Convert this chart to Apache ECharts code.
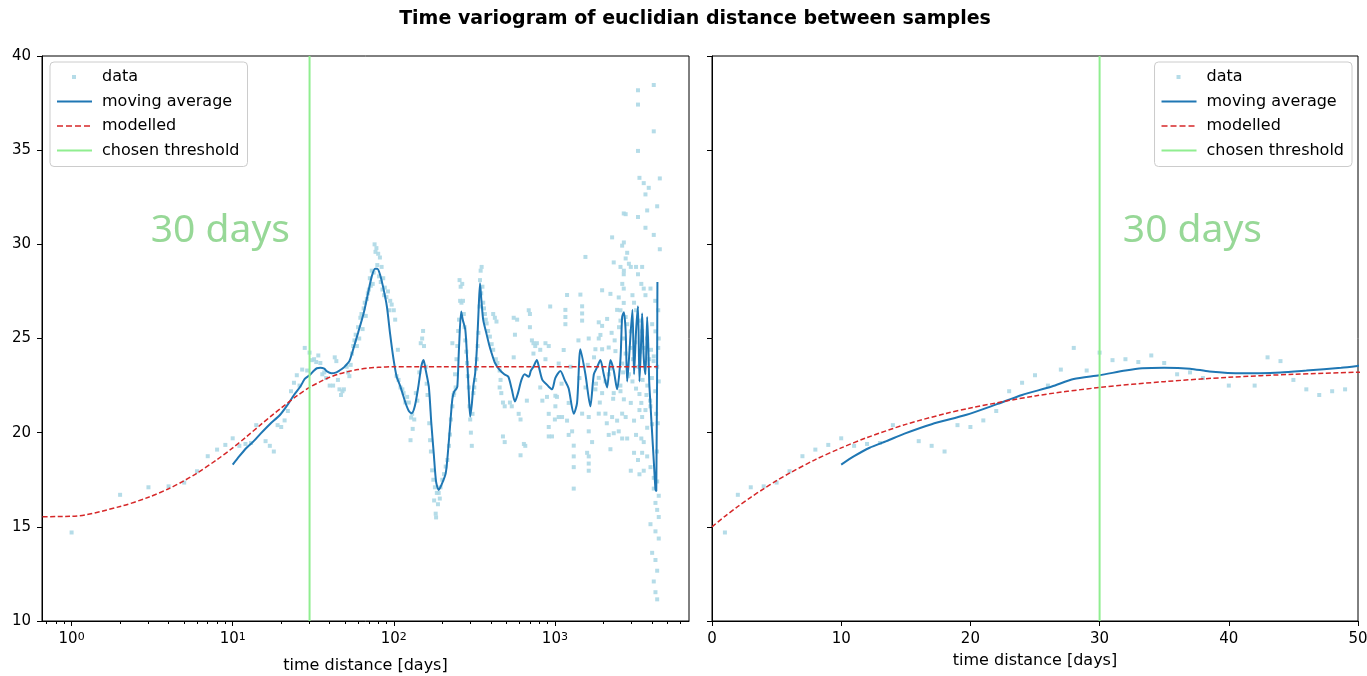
<!DOCTYPE html>
<html><head><meta charset="utf-8">
<script src="https://cdn.jsdelivr.net/npm/echarts@6/dist/echarts.min.js"></script>
<style>html,body{margin:0;padding:0;background:#fff}#c{width:1367px;height:676px}</style>
</head><body><div id="c"></div>
<script>
const titleText = 'Time variogram of euclidian distance between samples';
const xAxisName = 'time distance [days]';
const seriesNames = ['data', 'moving average', 'modelled', 'chosen threshold'];
const thresholdDays = 30;
const thresholdLabel = '30 days';
const yRange = [10, 40];
const logRange = [0.655, 6800];
const linRange = [0, 50];
const logMajorTicks = [1, 10, 100, 1000];

// [time distance (days), euclidian distance]
const samples = [
[1,14.7],[2,16.7],[3,17.1],[4,17.15],[5,17.35],[6,17.95],[7,18.75],[8,19.1],[9,19.35],[10,19.7],
[11,19.3],[12,19.4],[13,19.45],[14,20.4],[16,19.55],[17,19.3],[18,19.0],[19,20.4],[20,20.3],[21,20.65],
[22,21.15],[23,22.2],[24,22.65],[25,23.05],[26,22.5],[27,23.35],[28,24.5],[29,23.3],[30,24.25],[31,23.85],
[32,23.9],[33,23.75],[34,24.1],[35,23.7],[36,23.1],[37,23.2],[38,22.9],[40,22.5],[42,22.5],[43,24.0],
[44,23.8],[45,22.8],[46,22.3],[47,22.0],[48,22.2],[49,22.3],
[51,23.5],[52,23.2],[53,23.0],[54,23.6],[55,24.2],[56,24.6],[57,24.9],[58,25.2],[59,24.6],[60,25.6],
[61,25.0],[62,26.1],[63,26.3],[64,25.5],[65,26.6],[66,26.9],[67,26.2],[68,27.1],[69,27.4],[70,27.6],
[71,28.2],[72,27.8],[73,28.6],[74,27.9],[75,28.5],[76,30.0],[77,29.6],[78,29.8],[79,28.9],[80,29.5],
[81,28.3],[82,29.3],[83,28.0],[84,28.8],[85,27.6],[86,28.2],[87,27.3],[88,27.7],[90,27.2],[92,27.5],
[94,26.5],[95,27.0],[97,26.8],[100,26.5],[102,26.0],[104,23.0],[106,24.4],[107,22.8],[110,22.4],[113,22.3],
[115,22.1],[118,21.6],[121,21.9],[124,21.6],[127,19.6],[128,20.8],[130,21.0],[131,20.2],[134,20.7],[137,22.1],
[140,21.7],[144,23.2],[147,24.75],[150,25.0],[152,25.4],[154,24.6],[158,23.5],[160,22.6],[162,22.0],[166,20.5],
[168,19.6],[170,19.0],[173,18.0],[176,17.5],[178,16.4],[180,17.1],[182,15.7],[183,15.5],[185,16.8],[188,16.2],
[190,16.8],[193,16.5],[195,17.1],[200,17.5],[205,17.8],[210,18.2],[215,18.55],[220,19.3],[223,19.9],[226,20.7],
[231,21.4],[231,24.75],[235,22.0],[237,22.1],[240,23.1],[242,22.4],[245,23.9],[248,24.6],[251,25.4],[254,26.0],
[256,28.1],[258,27.0],[260,27.75],[263,26.9],[266,27.9],[269,27.0],[272,26.3],[275,25.6],[278,24.9],[282,24.3],
[285,23.7],[288,23.0],[292,22.4],[295,21.4],[298,20.7],[301,20.0],[305,19.3],[308,21.0],[312,22.1],[316,22.4],
[320,22.8],[324,23.4],[327,23.9],[331,24.6],[335,25.3],[340,26.7],[343,28.1],[346,28.6],[349,27.4],[351,28.8],
[355,27.75],[359,26.9],[363,26.6],[368,26.3],[372,26.0],[377,25.8],[385,25.4],[395,25.1],[405,24.7],[414,24.4],
[414,26.3],[424,26.1],[430,23.9],[434,25.9],[440,23.7],[454,23.3],[454,22.4],[460,22.8],[465,22.1],[476,21.6],
[476,19.8],[488,21.4],[488,19.5],[526,21.6],[540,21.4],[555,26.1],[555,24.0],[565,25.2],[583,26.0],[596,21.0],
[612,20.7],[612,18.8],[642,19.4],[655,19.3],[670,21.7],[688,26.5],[700,25.6],[700,26.3],[720,24.9],[736,24.75],
[736,24.2],[755,24.6],[773,24.75],[811,24.4],[811,22.4],[836,21.7],[874,24.75],[874,23.9],[893,21.9],[916,24.6],
[916,21.0],[916,20.3],[916,19.8],[935,26.7],[960,19.8],[1000,20.7],[1007,21.96],[1007,21.4],[1030,21.9],[1056,23.67],
[1056,20.83],[1108,20.83],[1134,24.39],[1162,26.52],[1162,26.14],[1162,25.76],[1190,27.31],[1190,20.64],[1218,21.58],[1218,19.88],
[1279,20.07],[1309,19.31],[1309,18.74],[1309,18.17],[1309,17.03],[1440,27.33],[1476,26.71],[1476,26.33],[1476,25.95],[1476,21.01],
[1547,29.33],[1585,18.93],[1622,25.0],[1622,20.83],[1622,20.07],[1622,18.74],[1622,18.36],[1622,17.98],[1702,19.5],[1785,24.43],
[1785,22.3],[1872,25.86],[1872,25.0],[1872,22.91],[1872,21.01],[1917,25.19],[1964,27.56],[1964,25.67],[1964,24.43],[1964,22.1],
[2059,22.72],[2059,21.01],[2110,26.04],[2159,24.52],[2159,23.1],[2159,19.88],[2212,27.37],[2212,19.12],[2266,30.37],[2266,20.83],
[2319,29.04],[2319,22.1],[2319,19.97],[2376,24.33],[2434,26.52],[2434,20.64],[2491,27.18],[2491,20.07],[2553,25.95],[2553,22.2],
[2615,29.93],[2615,21.01],[2615,19.69],[2676,31.64],[2676,28.41],[2676,27.65],[2676,26.89],
[1100,22.6],[1250,23.5],[1400,24.9],[1420,22.9],[1550,22.4],[1600,23.6],[1750,24.0],[1800,22.6],[1900,21.6],[2100,20.5],
[2200,23.4],[2250,25.3],[2300,21.8],[2350,24.9],[2500,25.6],[2550,22.5],[2650,23.2],[2750,24.2],[2850,23.0],[2950,24.5],
[3050,23.9],[3150,24.8],[3300,23.5],[3380,24.3],[3500,22.8],[3550,24.5],[3650,23.7],[3750,22.5],[3850,23.9],[3950,24.4],
[4000,22.9],[4100,23.8],[4200,22.2],[3350,21.2],[3700,22.0],[3900,21.7],[4250,21.0],[4300,19.0],[4350,20.5],[4380,24.5],
[4380,26.5],[4200,27.0],
[4110,38.46],[3280,38.18],[3280,37.42],[4110,36.0],[3280,34.96],[3350,33.53],[3560,33.25],[3825,33.0],[3650,32.65],[4480,33.5],
[4315,32.02],[2750,31.6],[3280,31.45],[3740,31.8],[3650,30.88],[4110,30.5],[4480,29.74],[2680,30.1],[2810,29.55],[2750,29.25],
[2880,28.97],[2553,28.8],[2680,28.6],[2960,28.8],[3190,28.8],[3280,28.41],[3480,28.8],[2620,27.9],[3030,27.3],[3100,26.9],
[3440,27.9],[3560,27.65],[3650,27.3],[3920,27.65],[2553,26.5],[2750,26.14],[2810,25.76],[2960,25.38],[2680,25.0],[3190,26.5],
[3350,25.95],[3480,25.38],[3740,25.0],[4015,25.76],[4210,25.38],[4413,25.0],[4110,24.05],[4315,23.5],[4413,22.72],[2620,23.67],
[2880,23.1],[3030,22.72],[3190,22.34],[3350,22.05],[2680,21.77],[2960,21.58],[3440,21.58],[3650,21.2],[3920,21.4],[2750,20.83],
[3100,20.64],[3480,20.83],[3740,20.26],[4015,20.45],[2810,19.69],[3190,19.88],[3440,19.69],[3560,19.5],[3100,18.93],[3280,18.55],
[3480,18.93],[3740,18.74],[2960,17.98],[3350,17.79],[3560,17.98],[3920,18.17],[4110,17.6],[4315,17.41],[4110,17.03],[4413,16.65],
[4210,16.27],[4315,15.9],[4413,15.52],[3920,15.14],[4210,14.76],[4413,14.38],[4015,13.62],[4210,13.24],[4315,12.67],[4110,12.1],
[4210,11.53],[4315,11.15]
];

const movingAverage = [
[10,18.3],[11,18.75],[12.2,19.2],[13.5,19.55],[14.9,19.95],[17,20.45],[19.7,20.95],[22,21.5],[24,22.0],[26.3,22.45],
[28,22.85],[30,23.05],[32,23.3],[33.3,23.42],[35,23.45],[37,23.4],[38.5,23.25],[41,23.15],[44,23.2],[46,23.3],
[48.7,23.45],[50,23.55],[53,23.8],[56.3,24.5],[60,25.3],[65,26.34],[70,27.6],[73,28.3],[76.5,28.7],[79,28.7],
[82.1,28.4],[86,27.7],[90.6,26.7],[95,25.2],[99.6,23.9],[104,23.0],[110,22.44],[118,21.6],[124,21.15],[129,21.03],
[135,21.4],[142,22.44],[148,23.5],[153,23.86],[158,23.3],[165,22.44],[171,20.5],[177,18.9],[183,17.4],[190,16.96],
[197,17.2],[210,17.84],[218,19.2],[225,20.67],[231,21.8],[237,22.18],[243,22.3],[248,22.44],[254,24.5],[262,26.43],
[268,26.0],[278,25.46],[285,24.0],[292,22.1],[298,20.85],[305,21.5],[312,22.5],[320,23.15],[328,24.5],[336,26.5],
[343,27.93],[350,27.0],[359,25.99],[375,25.3],[390,24.7],[405,24.22],[425,23.7],[454,23.33],[485,23.1],[514,22.97],
[540,22.3],[565,21.65],[590,22.1],[620,22.8],[650,23.1],[688,22.97],[710,23.3],[736,23.5],[773,23.86],[800,23.4],
[836,22.8],[880,22.6],[916,22.44],[960,22.3],[1007,22.91],[1082,23.28],[1150,22.8],[1218,22.34],[1309,21.0],[1373,21.58],
[1440,24.43],[1547,23.1],[1660,21.4],[1745,23.1],[1830,23.48],[1917,23.86],[2010,23.1],[2110,22.4],[2212,23.86],[2319,23.3],
[2434,22.3],[2553,23.9],[2615,26.14],[2680,26.4],[2750,25.38],[2810,22.72],[2880,23.86],[3030,26.52],[3100,23.1],[3190,25.38],
[3280,26.71],[3350,22.72],[3420,24.5],[3480,26.33],[3560,24.0],[3650,23.1],[3740,26.14],[3800,24.62],[3850,22.72],[3920,21.5],
[4000,20.2],[4110,18.5],[4210,17.0],[4260,16.9],[4330,28.0]
];

const modelledX = [0, 1, 2, 3, 4, 5, 6, 8, 10, 12, 15, 18, 20, 25, 30, 35, 40, 45, 50, 60, 70, 80, 100, 150, 200, 4330];
const modelledY = [15.0, 15.56, 16.08, 16.57, 17.02, 17.45, 17.85, 18.57, 19.19, 19.74, 20.44, 21.0, 21.31, 21.95, 22.4, 22.71, 22.94, 23.1, 23.21, 23.35, 23.43, 23.47, 23.5, 23.5, 23.5, 23.5];

const FONT = 'DejaVu Sans';
const modelledLinear = modelledX.map((x, i) => [x, modelledY[i]]);
// like matplotlib's log scale: non-positive x is clipped to a tiny positive value
const modelledLog = modelledX.map((x, i) => [x > 0 ? x : 1e-6, modelledY[i]]);
const thresholdLine = [[thresholdDays, yRange[0]], [thresholdDays, yRange[1]]];

const logMinorTicks = [];
for (let e = -1; e <= 3; e++) for (let m = 2; m <= 9; m++) {
  const v = m * Math.pow(10, e);
  if (v > logRange[0] && v < logRange[1]) logMinorTicks.push(v);
}

const chart = echarts.init(document.getElementById('c'), null, {renderer: 'canvas'});

const axisLineStyle = {show: true, lineStyle: {color: '#000', width: 1}};
const tickStyle = {show: true, inside: false, length: 5, lineStyle: {color: '#000', width: 1}};
const labelStyle = {color: '#000', fontSize: 15, fontFamily: FONT};
const nameStyle = {color: '#000', fontSize: 16, fontFamily: FONT};

function panelSeries(xi, modelData, labelX) {
  return [
    {name: seriesNames[0], type: 'scatter', xAxisIndex: xi, yAxisIndex: xi, data: samples,
     symbol: 'rect', symbolSize: 4, itemStyle: {color: '#add8e6', opacity: 0.9}, color: '#add8e6', z: 2, clip: true},
    {name: seriesNames[1], type: 'line', xAxisIndex: xi, yAxisIndex: xi, data: movingAverage,
     symbol: 'none', showSymbol: false, smooth: 0.25, clip: true, color: '#1f77b4',
     itemStyle: {color: '#1f77b4'}, lineStyle: {color: '#1f77b4', width: 2}, z: 3},
    {name: seriesNames[2], type: 'line', xAxisIndex: xi, yAxisIndex: xi, data: modelData,
     symbol: 'none', showSymbol: false, smooth: 0.3, clip: true, color: '#d62728',
     itemStyle: {color: '#d62728'}, lineStyle: {color: '#d62728', width: 1.5, type: [5, 2.5]}, z: 4},
    {name: seriesNames[3], type: 'line', xAxisIndex: xi, yAxisIndex: xi, data: thresholdLine,
     symbol: 'none', showSymbol: false, clip: true, color: '#90ee90',
     itemStyle: {color: '#90ee90'}, lineStyle: {color: '#90ee90', width: 2}, z: 5,
     markPoint: {silent: true, symbol: 'circle', symbolSize: 0,
       data: [{coord: [labelX, 30.7]}],
       label: {show: true, position: 'right', distance: 0, formatter: thresholdLabel,
         color: '#97d897', fontSize: 39, fontFamily: 'Noto Sans'}}}
  ];
}

const legendIcons = {
  'data': 'path://M0,0M40,14M15,5h4v4h-4z',
  'moving average': 'path://M0,0M40,14M0,6h35v2h-35z',
  'modelled': 'path://M0,0M40,14M0,6.25h6v1.5h-6zM9,6.25h6v1.5h-6zM18,6.25h6v1.5h-6zM27,6.25h6v1.5h-6z',
  'chosen threshold': 'path://M0,0M40,14M0,6h35v2h-35z'
};
function legendCfg(pos) {
  return Object.assign({
    orient: 'vertical', top: 62, itemWidth: 40, itemHeight: 14, itemGap: 8.5,
    padding: [7, 8, 8, 7], selectedMode: false,
    backgroundColor: 'rgba(255,255,255,0.8)', borderColor: '#cccccc', borderWidth: 1, borderRadius: 4,
    textStyle: {color: '#000', fontSize: 16, fontFamily: FONT},
    data: seriesNames.map(n => ({name: n, icon: legendIcons[n]}))
  }, pos);
}

chart.setOption({
  animation: false,
  backgroundColor: '#fff',
  title: {text: titleText, left: 690, top: 5, textAlign: 'center',
    textStyle: {fontSize: 19, fontWeight: 'bold', fontFamily: FONT, color: '#000'}},
  legend: [legendCfg({left: 50}), legendCfg({right: 15})],
  grid: [
    {left: 42, top: 56, width: 647, height: 565, show: true, borderColor: '#000', borderWidth: 1, backgroundColor: 'transparent', outerBoundsMode: 'none', containLabel: false},
    {left: 712, top: 56, width: 646, height: 565, show: true, borderColor: '#000', borderWidth: 1, backgroundColor: 'transparent', outerBoundsMode: 'none', containLabel: false}
  ],
  xAxis: [
    {type: 'log', gridIndex: 0, logBase: 10, min: logRange[0], max: logRange[1], position: 'bottom',
     axisLine: axisLineStyle, splitLine: {show: false},
     axisTick: Object.assign({}, tickStyle, {customValues: logMajorTicks}),
     axisLabel: {show: true, margin: 11, customValues: logMajorTicks,
       formatter: v => '{b|10}{s|' + Math.round(Math.log10(v)) + '}',
       rich: {b: {fontSize: 15, fontFamily: FONT, color: '#000'},
              s: {fontSize: 11, fontFamily: FONT, color: '#000', verticalAlign: 'top'}}},
     name: xAxisName, nameLocation: 'middle', nameGap: 37, nameTextStyle: nameStyle},
    {type: 'value', gridIndex: 1, min: linRange[0], max: linRange[1], interval: 10, position: 'bottom',
     axisLine: axisLineStyle, splitLine: {show: false}, axisTick: tickStyle,
     axisLabel: Object.assign({margin: 11, showMinLabel: true, showMaxLabel: true}, labelStyle),
     name: xAxisName, nameLocation: 'middle', nameGap: 32, nameTextStyle: nameStyle},
    {type: 'log', gridIndex: 0, logBase: 10, min: logRange[0], max: logRange[1], position: 'bottom',
     axisLine: {show: false}, splitLine: {show: false}, axisLabel: {show: false},
     axisTick: {show: true, length: 3, customValues: logMinorTicks, lineStyle: {color: '#000', width: 1}}}
  ],
  yAxis: [
    {type: 'value', gridIndex: 0, min: yRange[0], max: yRange[1], interval: 5,
     axisLine: axisLineStyle, splitLine: {show: false}, axisTick: tickStyle,
     axisLabel: Object.assign({margin: 11}, labelStyle)},
    {type: 'value', gridIndex: 1, min: yRange[0], max: yRange[1], interval: 5,
     axisLine: axisLineStyle, splitLine: {show: false}, axisTick: tickStyle,
     axisLabel: {show: false}}
  ],
  series: [].concat(panelSeries(0, modelledLog, 3.1), panelSeries(1, modelledLinear, 31.8))
});
</script>
</body></html>
